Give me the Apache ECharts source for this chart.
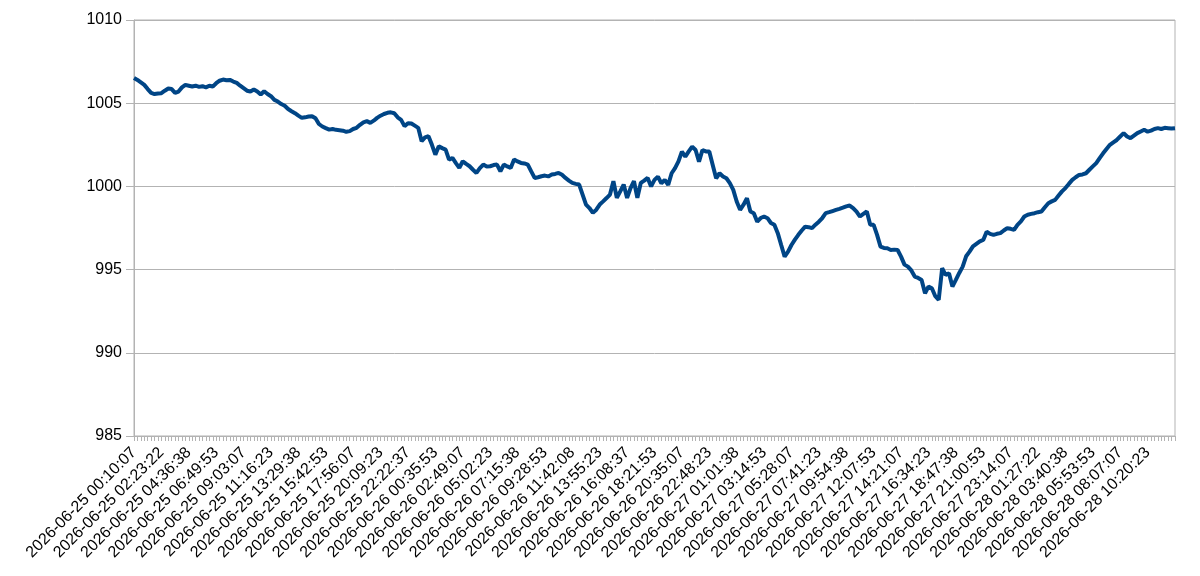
<!DOCTYPE html>
<html>
<head>
<meta charset="utf-8">
<title>pressure</title>
<script src="https://cdn.jsdelivr.net/npm/echarts@6/dist/echarts.min.js"></script>
<style>
  html, body { margin: 0; padding: 0; background: #fff; }
  #chart { width: 1200px; height: 576px; }
</style>
</head>
<body>
<div id="chart"></div>
<script>
// labels shown under the x axis, one every 8 samples
const tickLabels = [
  '2026-06-25 00:10:07', '2026-06-25 02:23:22', '2026-06-25 04:36:38', '2026-06-25 06:49:53',
  '2026-06-25 09:03:07', '2026-06-25 11:16:23', '2026-06-25 13:29:38', '2026-06-25 15:42:53',
  '2026-06-25 17:56:07', '2026-06-25 20:09:23', '2026-06-25 22:22:37', '2026-06-26 00:35:53',
  '2026-06-26 02:49:07', '2026-06-26 05:02:23', '2026-06-26 07:15:38', '2026-06-26 09:28:53',
  '2026-06-26 11:42:08', '2026-06-26 13:55:23', '2026-06-26 16:08:37', '2026-06-26 18:21:53',
  '2026-06-26 20:35:07', '2026-06-26 22:48:23', '2026-06-27 01:01:38', '2026-06-27 03:14:53',
  '2026-06-27 05:28:07', '2026-06-27 07:41:23', '2026-06-27 09:54:38', '2026-06-27 12:07:53',
  '2026-06-27 14:21:07', '2026-06-27 16:34:23', '2026-06-27 18:47:38', '2026-06-27 21:00:53',
  '2026-06-27 23:14:07', '2026-06-28 01:27:22', '2026-06-28 03:40:38', '2026-06-28 05:53:53',
  '2026-06-28 08:07:07', '2026-06-28 10:20:23'
];
const samplesPerLabel = 8;
const sampleCount = 305;

// y axis
const yMin = 985;
const yMax = 1010;
const yStep = 5;

// values, one per sample
const pressure = [
  1006.52, 1006.4, 1006.25, 1006.1, 1005.85, 1005.62, 1005.55, 1005.58, 1005.6, 1005.75,
  1005.88, 1005.85, 1005.62, 1005.7, 1005.95, 1006.1, 1006.05, 1006.0, 1006.05, 1005.98,
  1006.02, 1005.95, 1006.05, 1006.0, 1006.2, 1006.35, 1006.42, 1006.38, 1006.4, 1006.3,
  1006.22, 1006.05, 1005.9, 1005.75, 1005.7, 1005.82, 1005.7, 1005.52, 1005.72, 1005.55,
  1005.42, 1005.2, 1005.1, 1004.95, 1004.85, 1004.65, 1004.52, 1004.4, 1004.25, 1004.12,
  1004.15, 1004.2, 1004.22, 1004.1, 1003.75, 1003.6, 1003.5, 1003.41, 1003.45, 1003.4,
  1003.38, 1003.35, 1003.28, 1003.32, 1003.45, 1003.52, 1003.7, 1003.85, 1003.92, 1003.82,
  1003.95, 1004.12, 1004.25, 1004.35, 1004.42, 1004.45, 1004.4, 1004.15, 1004.0, 1003.62,
  1003.8, 1003.78, 1003.65, 1003.52, 1002.72, 1002.95, 1003.02, 1002.5, 1001.91, 1002.41,
  1002.3, 1002.21, 1001.61, 1001.71, 1001.4, 1001.11, 1001.51, 1001.35, 1001.21, 1001.0,
  1000.81, 1001.1, 1001.31, 1001.2, 1001.21, 1001.28, 1001.31, 1000.91, 1001.31, 1001.2,
  1001.11, 1001.61, 1001.5, 1001.41, 1001.38, 1001.31, 1000.9, 1000.51, 1000.55, 1000.61,
  1000.65, 1000.6, 1000.71, 1000.75, 1000.81, 1000.7, 1000.51, 1000.35, 1000.21, 1000.15,
  1000.11, 999.51, 998.91, 998.7, 998.41, 998.6, 998.91, 999.1, 999.3, 999.51,
  1000.31, 999.31, 999.7, 1000.11, 999.31, 999.9, 1000.31, 999.31, 1000.21, 1000.35,
  1000.51, 1000.0, 1000.39, 1000.59, 1000.19, 1000.39, 1000.09, 1000.79, 1001.1, 1001.5,
  1002.09, 1001.79, 1002.1, 1002.39, 1002.19, 1001.49, 1002.19, 1002.1, 1002.09, 1001.29,
  1000.49, 1000.79, 1000.6, 1000.49, 1000.2, 999.79, 999.09, 998.59, 998.9, 999.29,
  998.49, 998.39, 997.88, 998.1, 998.19, 998.09, 997.8, 997.69, 997.19, 996.48,
  995.78, 996.08, 996.48, 996.8, 997.09, 997.35, 997.58, 997.55, 997.49, 997.7,
  997.88, 998.1, 998.39, 998.45, 998.52, 998.59, 998.65, 998.72, 998.8, 998.85,
  998.7, 998.49, 998.19, 998.35, 998.49, 997.69, 997.69, 997.09, 996.38, 996.3,
  996.28, 996.18, 996.2, 996.18, 995.78, 995.3, 995.18, 994.95, 994.58, 994.5,
  994.38, 993.58, 993.98, 993.88, 993.4, 993.18, 995.08, 994.68, 994.78, 993.98,
  994.38, 994.8, 995.18, 995.8, 996.08, 996.4, 996.55, 996.7, 996.78, 997.28,
  997.15, 997.09, 997.15, 997.19, 997.35, 997.49, 997.45, 997.39, 997.69, 997.9,
  998.19, 998.3, 998.35, 998.39, 998.45, 998.49, 998.75, 998.99, 999.1, 999.19,
  999.45, 999.7, 999.9, 1000.15, 1000.39, 1000.55, 1000.69, 1000.72, 1000.79, 1001.0,
  1001.2, 1001.4, 1001.7, 1001.99, 1002.25, 1002.5, 1002.65, 1002.79, 1003.0, 1003.2,
  1003.0, 1002.9, 1003.05, 1003.2, 1003.3, 1003.4, 1003.29, 1003.35, 1003.45, 1003.5,
  1003.45, 1003.52, 1003.5, 1003.48, 1003.5
];

// one category per sample, labelled ones carry the timestamp
const categories = [];
for (let i = 0; i < sampleCount; i++) {
  categories.push(i % samplesPerLabel === 0 ? (tickLabels[i / samplesPerLabel] || '') : '');
}

const chart = echarts.init(document.getElementById('chart'));
chart.setOption({
  animation: false,
  backgroundColor: '#fff',
  grid: {
    left: 134,
    right: 25,
    top: 20,
    bottom: 140,
    show: true,
    borderColor: '#b3b3b3',
    borderWidth: 1,
    containLabel: false
  },
  xAxis: {
    type: 'category',
    data: categories,
    boundaryGap: false,
    axisLine: { lineStyle: { color: '#b3b3b3' } },
    axisTick: {
      interval: 0,
      length: 5,
      lineStyle: { color: '#b3b3b3' }
    },
    axisLabel: {
      interval: samplesPerLabel - 1,
      rotate: 45,
      margin: 14,
      fontFamily: 'Liberation Sans',
      fontSize: 16,
      color: '#000'
    },
    splitLine: { show: false }
  },
  yAxis: {
    type: 'value',
    min: yMin,
    max: yMax,
    interval: yStep,
    axisLine: { show: true, lineStyle: { color: '#b3b3b3' } },
    axisTick: { show: true, length: 8, lineStyle: { color: '#b3b3b3' } },
    axisLabel: {
      margin: 12,
      fontFamily: 'Liberation Sans',
      fontSize: 16,
      color: '#000',
      // no thousands separator
      formatter: (v) => String(v)
    },
    splitLine: { lineStyle: { color: '#b3b3b3', width: 1 } }
  },
  series: [{
    type: 'line',
    data: pressure,
    showSymbol: false,
    symbol: 'none',
    lineStyle: { color: '#004586', width: 4 },
    itemStyle: { color: '#004586' }
  }]
});
</script>
</body>
</html>
